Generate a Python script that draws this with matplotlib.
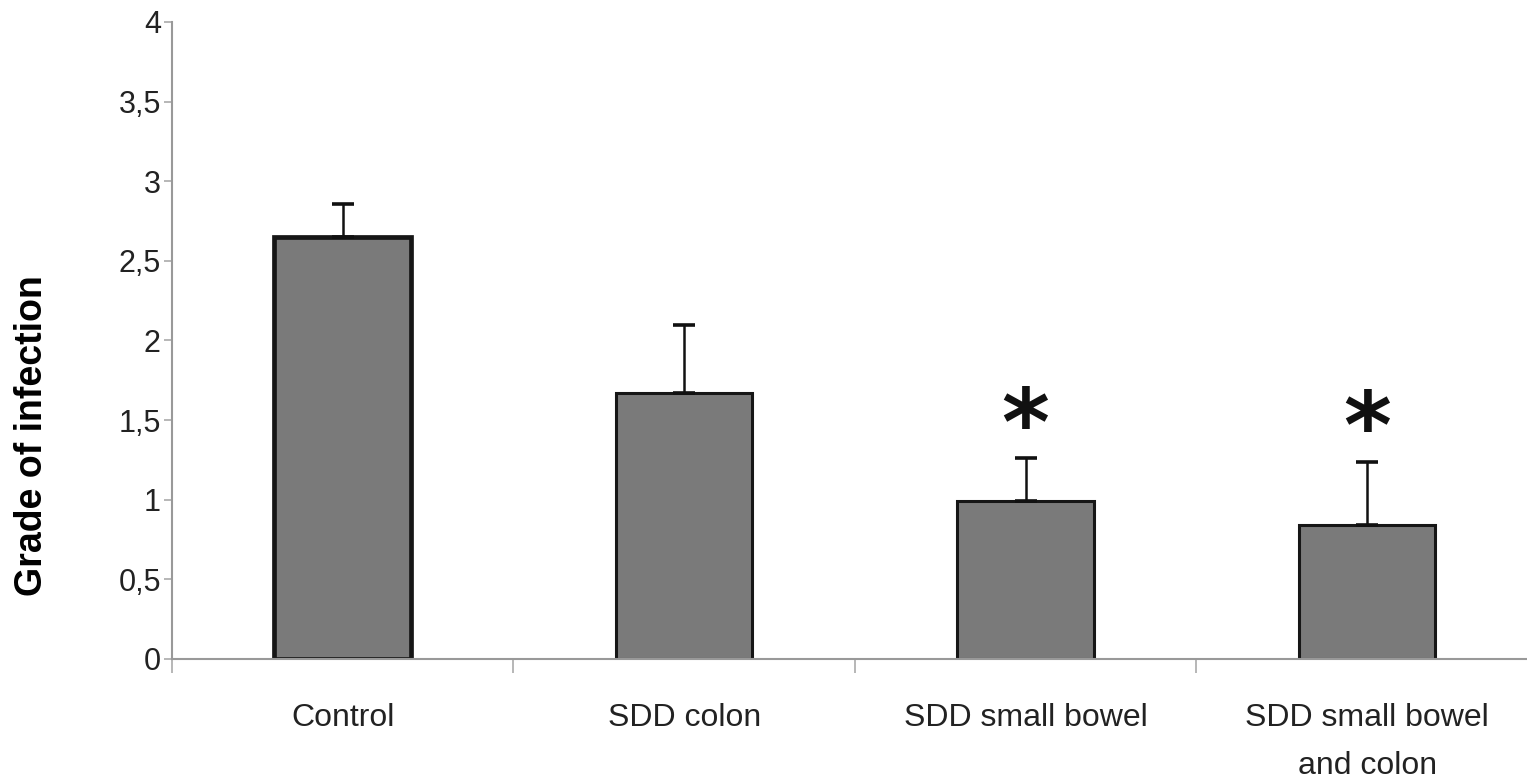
import matplotlib
matplotlib.use("Agg")
import matplotlib.pyplot as plt

# Grade of infection per treatment group (mean with upper SD)
groups = ["Control", "SDD colon", "SDD small bowel", "SDD small bowel\nand colon"]
means = [2.65, 1.67, 0.99, 0.84]
upper_err = [0.21, 0.43, 0.27, 0.40]
significant = [False, False, True, True]
y_ticks = [0, 0.5, 1, 1.5, 2, 2.5, 3, 3.5, 4]
y_tick_labels = ["0", "0,5", "1", "1,5", "2", "2,5", "3", "3,5", "4"]

plt.rcParams["font.family"] = ["Liberation Sans", "DejaVu Sans"]

fig = plt.figure(figsize=(15.27, 7.82), dpi=100)
ax = fig.add_axes([0.1126, 0.1573, 0.8945, 0.8146])

x = list(range(len(groups)))
bars = ax.bar(x, means, width=0.40, color="#7a7a7a", edgecolor="#161616",
              linewidth=2.2, zorder=2)
bars[0].set_linewidth(3.4)
ax.errorbar(x, means, yerr=[[0] * len(means), upper_err], fmt="none",
            ecolor="#111111", elinewidth=1.8, capsize=8, capthick=2.6, zorder=3)

for xi, m, e, sig in zip(x, means, upper_err, significant):
    if sig:
        ax.annotate("*", xy=(xi, m + e), xytext=(0, 21), textcoords="offset points",
                    ha="center", va="center", fontsize=66, fontweight="bold",
                    color="#111111", family=["DejaVu Sans"])

ax.set_xlim(-0.5, 3.5)
ax.set_ylim(0, 4)
ax.set_yticks(y_ticks)
ax.set_yticklabels(y_tick_labels, fontsize=22, color="#222222")

# Category ticks sit between the bars; labels sit under bar centres
ax.set_xticks([-0.5, 0.5, 1.5, 2.5, 3.5])
ax.set_xticklabels([])
ax.set_xticks(x, minor=True)
ax.set_xticklabels(groups, minor=True, fontsize=23, color="#222222",
                   linespacing=1.75, va="top")
ax.tick_params(axis="x", which="minor", length=0, pad=32)
ax.tick_params(axis="x", which="major", length=10, width=1.2, color="#aaaaaa",
               direction="out")
ax.tick_params(axis="y", length=6, width=1.2, color="#aaaaaa", pad=2)

for side in ("top", "right"):
    ax.spines[side].set_visible(False)
for side in ("left", "bottom"):
    ax.spines[side].set_color("#999999")
    ax.spines[side].set_linewidth(1.5)

ax.set_ylabel("Grade of infection", fontsize=27, fontweight="bold")
ax.yaxis.set_label_coords(-0.089, 0.35)

fig.savefig("out.png", dpi=100)
